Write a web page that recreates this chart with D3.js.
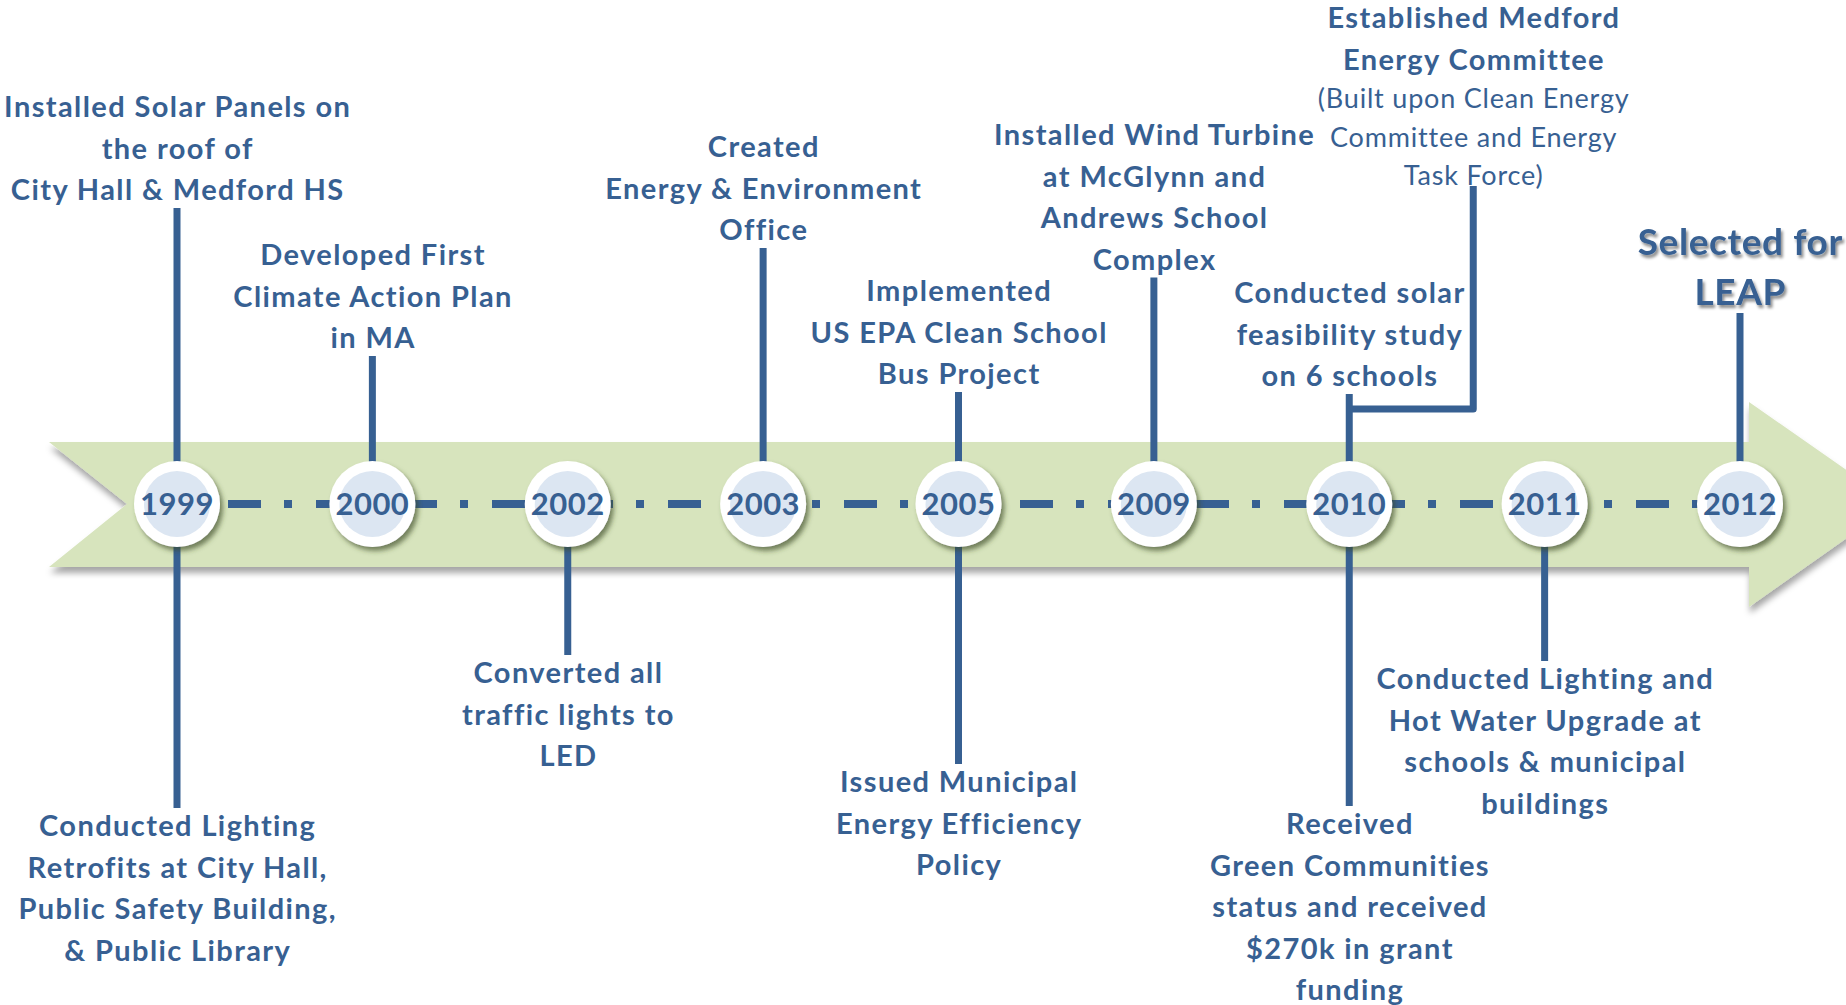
<!DOCTYPE html>
<html>
<head>
<meta charset="utf-8">
<script src="https://cdn.jsdelivr.net/npm/d3@7"></script>
<style>
  body { margin: 0; background: #fff; }
  svg { display: block; font-family: Lato, "Open Sans", sans-serif; }
</style>
</head>
<body>
<svg id="chart" width="1846" height="1005"></svg>
<script>
// timeline years, one circle each
var years = ["1999", "2000", "2002", "2003", "2005", "2009", "2010", "2011", "2012"];

// milestones written above the arrow
var aboveYears = ["1999", "2000", "2003", "2005", "2009", "2010", "2012"];
var aboveLabels = [
    ["Installed Solar Panels on", "the roof  of", "City Hall & Medford HS"],
    ["Developed First", "Climate Action Plan", "in MA"],
    ["Created", "Energy & Environment", "Office"],
    ["Implemented", "US EPA Clean School", "Bus Project"],
    ["Installed Wind Turbine", "at McGlynn and", "Andrews School", "Complex"],
    ["Conducted solar", "feasibility study", "on 6 schools"],
    ["Selected for", "LEAP"]
];

// milestones written below the arrow
var belowYears = ["1999", "2002", "2005", "2010", "2011"];
var belowLabels = [
    ["Conducted Lighting", "Retrofits at City Hall,", "Public Safety Building,", "& Public Library"],
    ["Converted all", "traffic lights to", "LED"],
    ["Issued Municipal", "Energy Efficiency", "Policy"],
    ["Received", "Green Communities", "status and received", "$270k in grant", "funding"],
    ["Conducted Lighting and", "Hot Water Upgrade at", "schools & municipal", "buildings"]
];

// the 2010 committee note, hung off to the right of the 2010 stem
var committeeYear = "2010";
var committeeTitle = ["Established Medford", "Energy Committee"];
var committeeNote = ["(Built upon Clean Energy", "Committee and Energy", "Task Force)"];

// ---- layout (first baseline of each label) ----
var aboveY = {"1999": 117, "2000": 265, "2003": 157, "2005": 301, "2009": 145, "2010": 303, "2012": 255};
var belowY = {"1999": 836, "2002": 683, "2005": 792, "2010": 834, "2011": 689};

var blue = "#376092",
    green = "#d7e4bd",
    inner = "#dce6f2",
    lineH = 41.5,
    cy = 504,
    r = 43;

var svg = d3.select("#chart");
var defs = svg.append("defs");

var f1 = defs.append("filter").attr("id", "bandShadow")
    .attr("x", "-5%").attr("y", "-20%").attr("width", "110%").attr("height", "150%");
f1.append("feDropShadow").attr("dx", 1).attr("dy", 6).attr("stdDeviation", 3)
    .attr("flood-color", "#000").attr("flood-opacity", 0.35);

var f2 = defs.append("filter").attr("id", "dotShadow")
    .attr("x", "-30%").attr("y", "-30%").attr("width", "170%").attr("height", "170%");
f2.append("feDropShadow").attr("dx", 3).attr("dy", 4).attr("stdDeviation", 2.5)
    .attr("flood-color", "#3b4a22").attr("flood-opacity", 0.65);

var f3 = defs.append("filter").attr("id", "textShadow")
    .attr("x", "-10%").attr("y", "-30%").attr("width", "130%").attr("height", "170%");
f3.append("feDropShadow").attr("dx", 2).attr("dy", 3).attr("stdDeviation", 1.5)
    .attr("flood-color", "#000").attr("flood-opacity", 0.45);

var x = d3.scalePoint().domain(years).range([177, 1740]);

// arrow band
var bandTop = 442, bandBot = 567, headTop = 402, headBot = 607,
    headX = 1749, tipX = 1895, leftX = 49, notchX = 127;
svg.append("path")
    .attr("d", d3.line()([
        [leftX, bandTop], [headX, bandTop], [headX, headTop], [tipX, cy],
        [headX, headBot], [headX, bandBot], [leftX, bandBot], [notchX, cy]
    ]) + "Z")
    .attr("fill", green)
    .attr("filter", "url(#bandShadow)");

// dash-dot axis along the band
svg.append("line")
    .attr("x1", x(years[0]) + 51).attr("x2", x(years[years.length - 1]))
    .attr("y1", cy).attr("y2", cy)
    .attr("stroke", blue).attr("stroke-width", 8)
    .attr("stroke-dasharray", "33 23 8 24");

// stems
var stems = svg.append("g").attr("stroke", blue).attr("stroke-width", 7).attr("fill", "none");

aboveYears.forEach(function (y, i) {
    var last = aboveY[y] + (aboveLabels[i].length - 1) * (y === "2012" ? 50 : lineH);
    stems.append("line")
        .attr("x1", x(y)).attr("x2", x(y))
        .attr("y1", last + 8).attr("y2", cy);
});
belowYears.forEach(function (y) {
    stems.append("line")
        .attr("x1", x(y)).attr("x2", x(y))
        .attr("y1", cy).attr("y2", belowY[y] - 28);
});

var cx = x(committeeYear) + 124;
stems.append("path")
    .attr("d", "M" + cx + ",186 V409 H" + x(committeeYear))
    .attr("stroke-linejoin", "round");

// year circles
var dots = svg.append("g").selectAll("g")
    .data(years)
    .enter().append("g")
    .attr("transform", function (d) { return "translate(" + x(d) + "," + cy + ")"; });

dots.append("circle").attr("r", r).attr("fill", "#fff").attr("filter", "url(#dotShadow)");
dots.append("circle").attr("r", 33).attr("fill", inner);
dots.append("text")
    .attr("text-anchor", "middle")
    .attr("y", 11)
    .attr("fill", blue)
    .attr("font-size", 31)
    .attr("font-weight", 700)
    .attr("letter-spacing", 0.5)
    .text(function (d) { return d; });

// labels
function label(cxPos, y0, lines, size, gap, spacing, weight) {
    var t = svg.append("text")
        .attr("text-anchor", "middle")
        .attr("fill", blue)
        .attr("font-size", size)
        .attr("letter-spacing", spacing)
        .attr("font-weight", weight || 700);
    lines.forEach(function (s, i) {
        t.append("tspan").attr("x", cxPos + spacing / 2).attr("y", y0 + i * gap).text(s);
    });
    return t;
}

aboveYears.forEach(function (y, i) {
    if (y === "2012") {
        label(x(y), aboveY[y], aboveLabels[i], 37, 50, 0.6).attr("filter", "url(#textShadow)");
    } else {
        label(x(y), aboveY[y], aboveLabels[i], 29, lineH, 1.4);
    }
});
belowYears.forEach(function (y, i) {
    label(x(y), belowY[y], belowLabels[i], 29, lineH, 1.4);
});

label(cx, 28, committeeTitle, 29, 42, 1.4);
label(cx, 108, committeeNote, 27, 38.5, 0.8, 400);
</script>
</body>
</html>
